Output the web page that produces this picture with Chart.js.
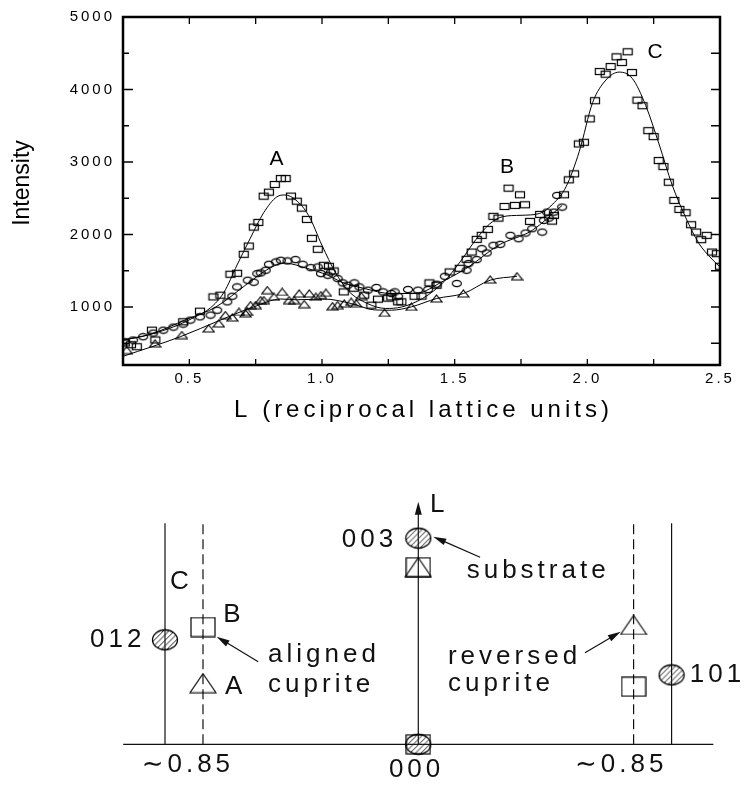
<!DOCTYPE html>
<html>
<head>
<meta charset="utf-8">
<title>Intensity vs L</title>
<script src="https://cdn.jsdelivr.net/npm/chart.js@4.4.0/dist/chart.umd.min.js"></script>
<style>
  html, body { margin: 0; padding: 0; background: #fff; }
  #wrap { position: relative; width: 745px; height: 786px; }
  #scan { position: absolute; left: 0; top: 0; }
  #sketch { position: absolute; left: 0; top: 440px; }
</style>
</head>
<body>
<div id="wrap">
  <canvas id="scan" width="745" height="440"></canvas>
  <canvas id="sketch" width="745" height="346"></canvas>
</div>
<script>
// ---- scan data: [L, intensity] ----
const squarePoints = [
  [0.257, 503], [0.28, 480], [0.302, 452], [0.359, 681], [0.372, 545], [0.477, 796],
  [0.54, 943], [0.591, 1139], [0.617, 1163], [0.655, 1452], [0.68, 1465], [0.705, 1727],
  [0.724, 1841], [0.743, 2102], [0.76, 2167], [0.78, 2529], [0.80, 2584], [0.822, 2690],
  [0.845, 2772], [0.863, 2772], [0.883, 2530], [0.905, 2460], [0.924, 2364], [0.943, 2208],
  [0.962, 1947], [0.984, 1796], [1.007, 1575], [1.026, 1562], [1.044, 1497], [1.082, 1208],
  [1.121, 1259], [1.159, 1163], [1.186, 1025], [1.211, 1108], [1.249, 1122], [1.261, 1139],
  [1.287, 1071], [1.299, 1071], [1.349, 1149], [1.375, 1150], [1.405, 1332], [1.432, 1300],
  [1.481, 1483], [1.519, 1534], [1.545, 1658], [1.564, 1758], [1.583, 1933], [1.602, 1988],
  [1.625, 2070], [1.646, 2250], [1.665, 2226], [1.688, 2387], [1.703, 2639], [1.727, 2401],
  [1.746, 2548], [1.765, 2410], [1.784, 2181], [1.822, 2277], [1.867, 2185], [1.874, 2263],
  [1.912, 2548], [1.93, 2754], [1.95, 2837], [1.968, 3249], [1.987, 3272], [2.009, 3594],
  [2.029, 3845], [2.047, 4248], [2.069, 4212], [2.088, 4317], [2.11, 4450], [2.13, 4372],
  [2.152, 4520], [2.168, 4234], [2.189, 3853], [2.208, 3776], [2.23, 3432], [2.25, 3350],
  [2.269, 3020], [2.287, 2937], [2.307, 2721], [2.328, 2470], [2.347, 2346], [2.37, 2300],
  [2.391, 2135], [2.41, 2034], [2.429, 1929], [2.45, 1988], [2.47, 1758], [2.488, 1736],
  [2.50, 1562]
];
const circlePoints = [
  [0.258, 520], [0.288, 544], [0.326, 590], [0.364, 640], [0.402, 681], [0.44, 723],
  [0.477, 764], [0.504, 819], [0.54, 864], [0.58, 888], [0.605, 956], [0.643, 1071],
  [0.662, 1149], [0.68, 1277], [0.72, 1369], [0.743, 1342], [0.756, 1461], [0.769, 1470],
  [0.788, 1507], [0.80, 1589], [0.826, 1621], [0.845, 1644], [0.87, 1635], [0.90, 1654],
  [0.927, 1589], [0.958, 1543], [0.984, 1552], [0.996, 1461], [1.022, 1438], [1.034, 1483],
  [1.059, 1392], [1.078, 1332], [1.097, 1300], [1.122, 1332], [1.141, 1277], [1.173, 1232],
  [1.205, 1269], [1.23, 1208], [1.261, 1186], [1.274, 1208], [1.287, 1149], [1.324, 1241],
  [1.362, 1232], [1.40, 1241], [1.432, 1314], [1.463, 1424], [1.508, 1324], [1.545, 1507],
  [1.552, 1599], [1.583, 1654], [1.602, 1805], [1.621, 1745], [1.646, 1851], [1.672, 1864],
  [1.71, 1988], [1.741, 1942], [1.767, 2020], [1.792, 2080], [1.83, 2033], [1.836, 2194],
  [1.848, 2309], [1.855, 2226], [1.874, 2309], [1.886, 2539], [1.905, 2378]
];
const trianglePoints = [
  [0.264, 406], [0.371, 498], [0.472, 613], [0.573, 705], [0.611, 774], [0.636, 888],
  [0.662, 856], [0.687, 933], [0.712, 911], [0.718, 933], [0.731, 1025], [0.75, 1025],
  [0.769, 1094], [0.781, 1094], [0.794, 1232], [0.819, 1140], [0.85, 1208], [0.876, 1094],
  [0.895, 1094], [0.914, 1186], [0.933, 1039], [0.952, 1186], [0.977, 1140], [0.996, 1163],
  [1.015, 1195], [1.04, 1011], [1.059, 1025], [1.084, 1048], [1.11, 1071], [1.129, 1048],
  [1.148, 1149], [1.236, 919], [1.337, 1002], [1.432, 1117], [1.533, 1186], [1.634, 1379],
  [1.735, 1424]
];

// fitted curves
const squareFit = [
  [0.25, 545], [0.35, 620], [0.45, 740], [0.52, 860], [0.58, 990], [0.63, 1200], [0.68, 1580],
  [0.73, 1950], [0.78, 2300], [0.83, 2520], [0.86, 2545], [0.9, 2480], [0.95, 2260], [1.0, 1850],
  [1.05, 1480], [1.1, 1220], [1.17, 1050], [1.24, 980], [1.3, 1000], [1.38, 1120], [1.46, 1350],
  [1.52, 1620], [1.58, 1930], [1.63, 2140], [1.68, 2245], [1.75, 2265], [1.82, 2290], [1.87, 2420],
  [1.92, 2660], [1.97, 3150], [2.02, 3820], [2.07, 4130], [2.12, 4240], [2.17, 4150], [2.22, 3780],
  [2.27, 3250], [2.32, 2680], [2.37, 2240], [2.42, 1880], [2.47, 1660], [2.5, 1552]
];
const circleFit = [
  [0.25, 544], [0.35, 620], [0.49, 830], [0.6, 1000], [0.72, 1324], [0.8, 1530], [0.857, 1607],
  [0.946, 1530], [1.022, 1438], [1.072, 1346], [1.16, 1255], [1.26, 1186], [1.35, 1186],
  [1.463, 1369], [1.552, 1552], [1.665, 1851], [1.792, 2057], [1.905, 2401]
];
const triangleFit = [
  [0.25, 320], [0.466, 590], [0.617, 819], [0.743, 1002], [0.845, 1110], [0.908, 1100],
  [1.009, 1110], [1.11, 1048], [1.198, 960], [1.261, 956], [1.337, 1002], [1.432, 1117],
  [1.533, 1186], [1.634, 1370], [1.735, 1424]
];

const xTickLabels = [0.5, 1.0, 1.5, 2.0, 2.5];
const yTickLabels = [1000, 2000, 3000, 4000, 5000];
const xTickMarks = [0.5, 0.75, 1.0, 1.25, 1.5, 1.75, 2.0, 2.25];
const yTickMarks = [500, 1000, 1500, 2000, 2500, 3000, 3500, 4000, 4500];

const peakNames = ['A', 'B', 'C'];
const peakL = [0.829, 1.697, 2.255];
const peakI = [3041, 2924, 4521];

// ---- sketch data: h along the base line, L upwards ----
const spotNames = ['012', '003', '000', '101'];
const spotH = [-1, 0, 0, 1];
const spotL = [1.52, 3.0, 0, 1.01];
const boxH = [-0.85, 0, 0, 0.85];
const boxL = [1.707, 2.577, 0, 0.838];
const wedgeH = [-0.85, 0, 0.85];
const wedgeL = [0.89, 2.577, 1.737];
const solidRodH = [-1, 1];
const dashedRodH = [-0.85, 0.85];
const rodTopL = 3.217;
const axisTopL = 3.53;
const baseH = [-1.165, 1.165];

// arrows [fromH, fromL, toH, toL]
const arrows = [
  [-0.632, 1.202, -0.796, 1.566],
  [0.244, 2.722, 0.059, 3.022],
  [0.658, 1.333, 0.799, 1.639]
];

// text of the sketch
const sketchLabels = [
  { text: '012', h: -1.296, l: 1.52 },
  { text: 'C', h: -0.98, l: 2.367 },
  { text: 'B', h: -0.77, l: 1.882 },
  { text: 'A', h: -0.763, l: 0.838 },
  { text: 'aligned', h: -0.593, l: 1.30 },
  { text: 'cuprite', h: -0.593, l: 0.863 },
  { text: '003', h: -0.302, l: 2.974 },
  { text: 'L', h: 0.046, l: 3.483 },
  { text: 'substrate', h: 0.191, l: 2.527 },
  { text: 'reversed', h: 0.117, l: 1.275 },
  { text: 'cuprite', h: 0.117, l: 0.878 },
  { text: '101', h: 1.072, l: 1.009 },
  { text: '\u223C0.85', h: -1.092, l: -0.30 },
  { text: '000', h: -0.116, l: -0.37 },
  { text: '\u223C0.85', h: 0.619, l: -0.30 }
];

// ---- markers ----
function markerCanvas(w, h, draw) {
  const c = document.createElement('canvas');
  c.width = w;
  c.height = h;
  const g = c.getContext('2d');
  g.strokeStyle = '#000';
  g.lineWidth = 1.2;
  draw(g, w, h);
  return c;
}
const squareMark = markerCanvas(12, 9, g => g.strokeRect(1.5, 1.5, 9, 6));
const circleMark = markerCanvas(12, 9, g => {
  g.beginPath(); g.ellipse(6, 4.5, 4.5, 3.2, 0, 0, Math.PI * 2); g.stroke();
});
const triangleMark = markerCanvas(13, 9, g => {
  g.beginPath(); g.moveTo(6.5, 1); g.lineTo(12, 8); g.lineTo(1, 8); g.closePath(); g.stroke();
});
const bigBox = markerCanvas(26, 21, g => g.strokeRect(1, 1, 24, 19));
const bigWedge = markerCanvas(28, 21, g => {
  g.beginPath(); g.moveTo(14, 1); g.lineTo(27, 20); g.lineTo(1, 20); g.closePath(); g.stroke();
});
const hatchSpot = markerCanvas(28, 23, g => {
  g.save();
  g.beginPath(); g.ellipse(14, 11.5, 12.5, 10, 0, 0, Math.PI * 2); g.clip();
  g.lineWidth = 1;
  g.strokeStyle = '#222';
  for (let k = -30; k < 40; k += 5.5) {
    g.beginPath(); g.moveTo(k, 23); g.lineTo(k + 23, 0); g.stroke();
  }
  g.restore();
  g.lineWidth = 1.3;
  g.beginPath(); g.ellipse(14, 11.5, 12.5, 10, 0, 0, Math.PI * 2); g.stroke();
});

const toXY = arr => arr.map(([x, y]) => ({ x, y }));

function markSet(points, style) {
  return { data: toXY(points), pointStyle: style, pointRadius: 5, showLine: false };
}
function fitSet(points) {
  return {
    data: toXY(points), showLine: true, pointRadius: 0, borderColor: '#000',
    borderWidth: 1, cubicInterpolationMode: 'monotone'
  };
}

// ---- top plot ----
const scanDecor = {
  id: 'scanDecor',
  afterDatasetsDraw(chart) {
    chart.ctx.letterSpacing = '3px';
  },
  afterDraw(chart) {
    const { ctx, chartArea: a, scales: { x, y } } = chart;
    ctx.save();
    ctx.letterSpacing = '0px';
    ctx.strokeStyle = '#000';
    ctx.lineWidth = 1.3;
    ctx.beginPath();
    xTickMarks.forEach(v => {
      const px = x.getPixelForValue(v);
      ctx.moveTo(px, a.bottom); ctx.lineTo(px, a.bottom - 6);
      ctx.moveTo(px, a.top); ctx.lineTo(px, a.top + 7);
    });
    yTickMarks.forEach(v => {
      const py = y.getPixelForValue(v);
      const len = v % 1000 === 0 ? 10 : 6;
      ctx.moveTo(a.left, py); ctx.lineTo(a.left + len, py);
      ctx.moveTo(a.right, py); ctx.lineTo(a.right - 9, py);
    });
    ctx.stroke();
    ctx.lineWidth = 2.5;
    ctx.strokeRect(a.left, a.top, a.right - a.left, a.bottom - a.top);

    ctx.fillStyle = '#000';
    ctx.textAlign = 'center';
    ctx.textBaseline = 'middle';
    ctx.font = '21px "Liberation Sans", Arial, sans-serif';
    peakNames.forEach((n, i) => {
      ctx.fillText(n, x.getPixelForValue(peakL[i]), y.getPixelForValue(peakI[i]));
    });

    // axis titles
    ctx.font = '24px "Liberation Sans", Arial, sans-serif';
    ctx.letterSpacing = '4px';
    ctx.fillText('L (reciprocal lattice units)', (a.left + a.right) / 2 + 2, a.bottom + 45);
    ctx.letterSpacing = '0px';
    ctx.font = '23px "Liberation Sans", Arial, sans-serif';
    ctx.translate(22.5, (a.top + a.bottom) / 2 - 8);
    ctx.rotate(-Math.PI / 2);
    ctx.fillText('Intensity', 0, 0);
    ctx.restore();
  }
};

const tickFont = { family: '"Liberation Sans", Arial, sans-serif', size: 15 };

new Chart(document.getElementById('scan'), {
  type: 'scatter',
  data: {
    datasets: [
      markSet(squarePoints, squareMark),
      markSet(circlePoints, circleMark),
      markSet(trianglePoints, triangleMark),
      fitSet(squareFit),
      fitSet(circleFit),
      fitSet(triangleFit)
    ]
  },
  options: {
    responsive: false,
    animation: false,
    layout: { autoPadding: false, padding: { top: 17, right: 25, bottom: 0, left: 0 } },
    plugins: { legend: { display: false }, tooltip: { enabled: false } },
    scales: {
      x: {
        type: 'linear', min: 0.25, max: 2.5,
        grid: { display: false, drawTicks: false },
        border: { display: false },
        afterBuildTicks: s => { s.ticks = xTickLabels.map(v => ({ value: v })); },
        afterFit: s => { s.height = 75; },
        ticks: { z: 1, padding: 5, color: '#000', font: tickFont, maxRotation: 0,
                 callback: v => Number(v).toFixed(1) }
      },
      y: {
        type: 'linear', min: 200, max: 5000,
        grid: { display: false, drawTicks: false },
        border: { display: false },
        afterBuildTicks: s => { s.ticks = yTickLabels.map(v => ({ value: v })); },
        afterFit: s => { s.width = 123; },
        ticks: { z: 1, padding: 8, color: '#000', font: tickFont, callback: v => String(v) }
      }
    }
  },
  plugins: [scanDecor]
});

// ---- bottom sketch ----
function rod(h, top, dashed) {
  return {
    data: [{ x: h, y: 0 }, { x: h, y: top }], showLine: true, pointRadius: 0,
    borderColor: '#111', borderWidth: 1.2, borderDash: dashed ? [10, 5] : []
  };
}
function spotSet(hs, ls, style) {
  return {
    data: hs.map((h, i) => ({ x: h, y: ls[i] })), pointStyle: style,
    pointRadius: 10, showLine: false
  };
}

const sketchDecor = {
  id: 'sketchDecor',
  afterDraw(chart) {
    const { ctx, scales: { x, y } } = chart;
    ctx.save();
    ctx.strokeStyle = '#111';
    ctx.fillStyle = '#111';
    ctx.lineWidth = 1.2;
    const heads = arrows.map(r => r.slice());
    heads.push([0, 0, 0, axisTopL]);
    heads.forEach(([h0, l0, h1, l1], i) => {
      const x0 = x.getPixelForValue(h0), y0 = y.getPixelForValue(l0);
      const x1 = x.getPixelForValue(h1), y1 = y.getPixelForValue(l1);
      const ang = Math.atan2(y1 - y0, x1 - x0);
      const len = 13, half = 3.5;
      if (i < arrows.length) {
        ctx.beginPath(); ctx.moveTo(x0, y0);
        ctx.lineTo(x1 - Math.cos(ang) * len * 0.8, y1 - Math.sin(ang) * len * 0.8);
        ctx.stroke();
      }
      ctx.beginPath();
      ctx.moveTo(x1, y1);
      ctx.lineTo(x1 - Math.cos(ang) * len - Math.sin(ang) * half, y1 - Math.sin(ang) * len + Math.cos(ang) * half);
      ctx.lineTo(x1 - Math.cos(ang) * len + Math.sin(ang) * half, y1 - Math.sin(ang) * len - Math.cos(ang) * half);
      ctx.closePath();
      ctx.fill();
    });

    ctx.font = '26px "Liberation Sans", "DejaVu Sans", Arial, sans-serif';
    ctx.letterSpacing = '4px';
    ctx.textBaseline = 'middle';
    sketchLabels.forEach(lb => {
      ctx.textAlign = lb.align || 'left';
      ctx.fillText(lb.text, x.getPixelForValue(lb.h), y.getPixelForValue(lb.l));
    });
    ctx.restore();
  }
};

new Chart(document.getElementById('sketch'), {
  type: 'scatter',
  data: {
    datasets: [
      spotSet(spotH, spotL, hatchSpot),
      spotSet(boxH, boxL, bigBox),
      spotSet(wedgeH, wedgeL, bigWedge),
      rod(solidRodH[0], rodTopL, false),
      rod(solidRodH[1], rodTopL, false),
      rod(dashedRodH[0], rodTopL, true),
      rod(dashedRodH[1], rodTopL, true),
      rod(0, axisTopL - 0.15, false),
      {
        data: baseH.map(h => ({ x: h, y: 0 })), showLine: true, pointRadius: 0,
        borderColor: '#111', borderWidth: 1.2
      }
    ]
  },
  options: {
    responsive: false,
    animation: false,
    layout: { autoPadding: false, padding: 0 },
    plugins: { legend: { display: false }, tooltip: { enabled: false } },
    scales: {
      x: { type: 'linear', min: -1.6514, max: 1.2898, display: false },
      y: { type: 'linear', min: -0.607, max: 4.429, display: false }
    }
  },
  plugins: [sketchDecor]
});
</script>
</body>
</html>
